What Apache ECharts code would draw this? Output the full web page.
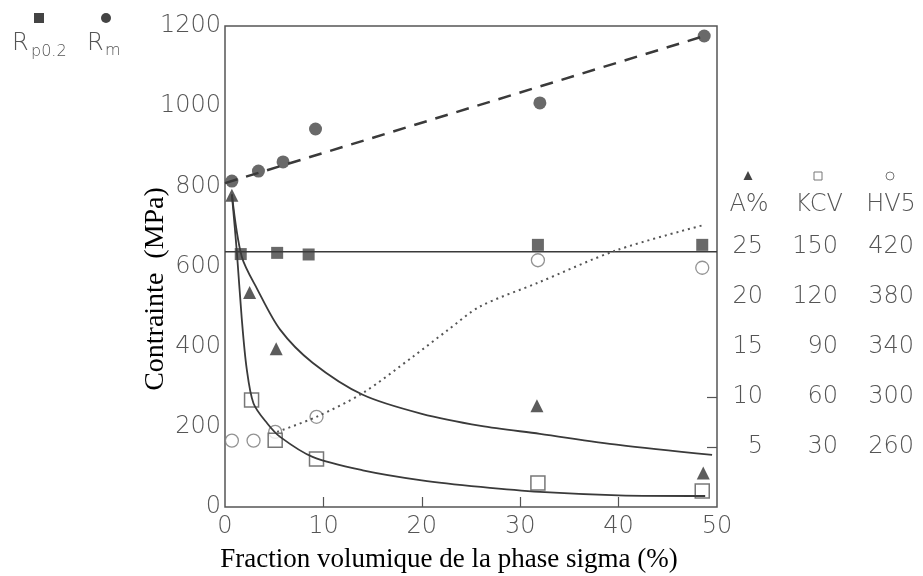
<!DOCTYPE html>
<html>
<head>
<meta charset="utf-8">
<script src="https://cdn.jsdelivr.net/npm/echarts@6/dist/echarts.min.js"></script>
<style>
  html, body { margin: 0; padding: 0; background: #fff; }
  #chart { width: 923px; height: 576px; }
</style>
</head>
<body>
<div id="chart"></div>
<script>
// Rm (filled circles) and its dashed fit
const rmX = [0.7, 3.4, 5.9, 9.2, 32.0, 48.7];
const rmY = [813, 838, 861, 943, 1008, 1175];
const rmFitX = [0, 48.7];
const rmFitY = [808, 1175];

// Rp0.2 (filled squares) and its flat fit
const rpX = [1.6, 5.3, 8.5, 31.8, 48.5];
const rpY = [631, 634, 630, 654, 654];
const rpFitX = [0, 50];
const rpFitY = [637, 637];

// A% (filled triangles), right scale
const aX = [0.7, 2.5, 5.2, 31.7, 48.6];
const aY = [30.1, 20.4, 14.8, 9.1, 2.4];
const aCurveX = [0.7, 1.7, 3.3, 5.6, 8.9, 14, 20, 26, 32, 40, 49.5];
const aCurveY = [30.2, 24, 20.7, 16.7, 13.4, 10.2, 8.3, 7.1, 6.3, 5.2, 4.2];

// KCV (open squares), right scale
const kcvX = [2.7, 5.1, 9.3, 31.8, 48.5];
const kcvY = [58, 34, 22.8, 8.4, 3.6];
const kcvCurveX = [0.7, 1.2, 1.7, 2.2, 2.9, 4.3, 5.6, 8.9, 14, 20, 26, 32, 40, 48.8];
const kcvCurveY = [181, 147, 107, 77, 56, 44, 36, 24, 16, 10, 6, 3, 1, 0.6];

// HV5 (open circles), right scale
const hvX = [0.7, 2.9, 5.1, 9.3, 31.8, 48.5];
const hvY = [265, 265, 272, 284, 409, 403];
const hvCurveX = [5.3, 9.3, 14, 19.1, 22.6, 25.9, 31.8, 39.8, 48.6];
const hvCurveY = [272, 284, 303, 332, 353, 372, 391, 417, 437];

const xTicks = [0, 10, 20, 30, 40, 50];
const leftTicks = [0, 200, 400, 600, 800, 1000, 1200];
const aTicks = [5, 10, 15, 20, 25];
const kcvTicks = [30, 60, 90, 120, 150];
const hvTicks = [260, 300, 340, 380, 420];

const numFont = 'DejaVu Sans';
const gray = '#555';
const ink = '#3a3a3a';

const pairs = (xs, ys) => xs.map((x, i) => [x, ys[i]]);
const plain = (v) => String(v);

const chart = echarts.init(document.getElementById('chart'));

const numLabel = {
  color: gray,
  fontFamily: numFont,
  fontWeight: 200,
  fontSize: 24,
  formatter: plain
};

const rightAxis = (min, max, ticks, margin, tickVals) => ({
  type: 'value',
  position: 'right',
  min: min,
  max: max,
  axisLine: { show: false },
  splitLine: { show: false },
  axisTick: tickVals
    ? { show: true, inside: true, length: 10, customValues: tickVals, lineStyle: { color: gray, width: 1.2 } }
    : { show: false },
  axisLabel: Object.assign({}, numLabel, { customValues: ticks, align: 'right', margin: margin })
});

chart.setOption({
  backgroundColor: '#fff',
  animation: false,
  grid: {
    left: 225, right: 206, top: 26, bottom: 69,
    show: true, borderColor: gray, borderWidth: 1.5, backgroundColor: 'transparent'
  },
  xAxis: {
    type: 'value',
    min: 0, max: 50, interval: 10,
    axisLine: { show: false },
    splitLine: { show: false },
    axisTick: { show: true, inside: true, length: 10, customValues: [10, 20, 30, 40], lineStyle: { color: gray, width: 1.2 } },
    axisLabel: Object.assign({}, numLabel, { customValues: xTicks, margin: 8 })
  },
  yAxis: [
    {
      type: 'value',
      min: 0, max: 1200, interval: 200,
      axisLine: { show: false },
      splitLine: { show: false },
      axisTick: { show: false },
      axisLabel: Object.assign({}, numLabel, { customValues: leftTicks, margin: 4 })
    },
    rightAxis(-1, 47, aTicks, 46, [5, 10]),
    rightAxis(-6, 282, kcvTicks, 121, null),
    rightAxis(212, 596, hvTicks, 197, null)
  ],
  graphic: [
    // legend top-left
    { type: 'rect', shape: { x: 34, y: 13, width: 10, height: 10 }, style: { fill: '#444' } },
    { type: 'circle', shape: { cx: 106, cy: 18, r: 5 }, style: { fill: '#444' } },
    { type: 'text', x: 12, y: 44, style: { text: 'R', font: '200 24px "DejaVu Sans"', fill: gray, textVerticalAlign: 'middle' } },
    { type: 'text', x: 31, y: 52, style: { text: 'p0.2', font: '200 16px "DejaVu Sans"', fill: gray, textVerticalAlign: 'middle' } },
    { type: 'text', x: 87, y: 44, style: { text: 'R', font: '200 24px "DejaVu Sans"', fill: gray, textVerticalAlign: 'middle' } },
    { type: 'text', x: 105, y: 51, style: { text: 'm', font: '200 16px "DejaVu Sans"', fill: gray, textVerticalAlign: 'middle' } },
    // right header
    { type: 'polygon', shape: { points: [[748, 171], [743.5, 180], [752.5, 180]] }, style: { fill: '#444' } },
    { type: 'rect', shape: { x: 814, y: 172, width: 8, height: 8 }, style: { fill: '#fff', stroke: '#777', lineWidth: 1 } },
    { type: 'circle', shape: { cx: 890, cy: 176, r: 4 }, style: { fill: '#fff', stroke: '#777', lineWidth: 1 } },
    { type: 'text', x: 749, y: 205, style: { text: 'A%', font: '200 24px "DejaVu Sans"', fill: gray, textAlign: 'center', textVerticalAlign: 'middle' } },
    { type: 'text', x: 819, y: 205, style: { text: 'KCV', font: '200 24px "DejaVu Sans"', fill: gray, textAlign: 'center', textVerticalAlign: 'middle' } },
    { type: 'text', x: 891, y: 205, style: { text: 'HV5', font: '200 24px "DejaVu Sans"', fill: gray, textAlign: 'center', textVerticalAlign: 'middle' } },
    // axis titles
    { type: 'text', x: 156, y: 289, rotation: Math.PI / 2,
      style: { text: 'Contrainte  (MPa)', font: '28px "Liberation Serif"', fill: '#000', textAlign: 'center', textVerticalAlign: 'middle' } },
    { type: 'text', x: 449, y: 560,
      style: { text: 'Fraction volumique de la phase sigma (%)', font: '27px "Liberation Serif"', fill: '#000', textAlign: 'center', textVerticalAlign: 'middle' } }
  ],
  series: [
    {
      type: 'line', yAxisIndex: 0, data: pairs(rmFitX, rmFitY), symbol: 'none',
      lineStyle: { color: ink, width: 2.5, type: [13, 9] }
    },
    {
      type: 'line', yAxisIndex: 0, data: pairs(rpFitX, rpFitY), symbol: 'none',
      lineStyle: { color: ink, width: 1.5 }
    },
    {
      type: 'line', yAxisIndex: 1, data: pairs(aCurveX, aCurveY), symbol: 'none',
      smooth: 0.3, lineStyle: { color: ink, width: 1.8 }
    },
    {
      type: 'line', yAxisIndex: 2, data: pairs(kcvCurveX, kcvCurveY), symbol: 'none',
      smooth: 0.3, lineStyle: { color: ink, width: 1.8 }
    },
    {
      type: 'line', yAxisIndex: 3, data: pairs(hvCurveX, hvCurveY), symbol: 'none',
      smooth: 0.3, lineStyle: { color: '#555', width: 2, type: [2, 4] }
    },
    {
      type: 'scatter', yAxisIndex: 3, data: pairs(hvX, hvY), symbol: 'circle', symbolSize: 13,
      itemStyle: { color: '#fff', borderColor: '#777', borderWidth: 1.3 }
    },
    {
      type: 'scatter', yAxisIndex: 2, data: pairs(kcvX, kcvY), symbol: 'rect', symbolSize: 14,
      itemStyle: { color: '#fff', borderColor: '#555', borderWidth: 1.5 }
    },
    {
      type: 'scatter', yAxisIndex: 0, data: pairs(rmX, rmY), symbol: 'circle', symbolSize: 13,
      itemStyle: { color: '#444' }
    },
    {
      type: 'scatter', yAxisIndex: 0, data: pairs(rpX, rpY), symbol: 'rect', symbolSize: 12,
      itemStyle: { color: '#444' }
    },
    {
      type: 'scatter', yAxisIndex: 1, data: pairs(aX, aY), symbol: 'triangle', symbolSize: 13,
      itemStyle: { color: '#333' }
    }
  ]
});
</script>
</body>
</html>
